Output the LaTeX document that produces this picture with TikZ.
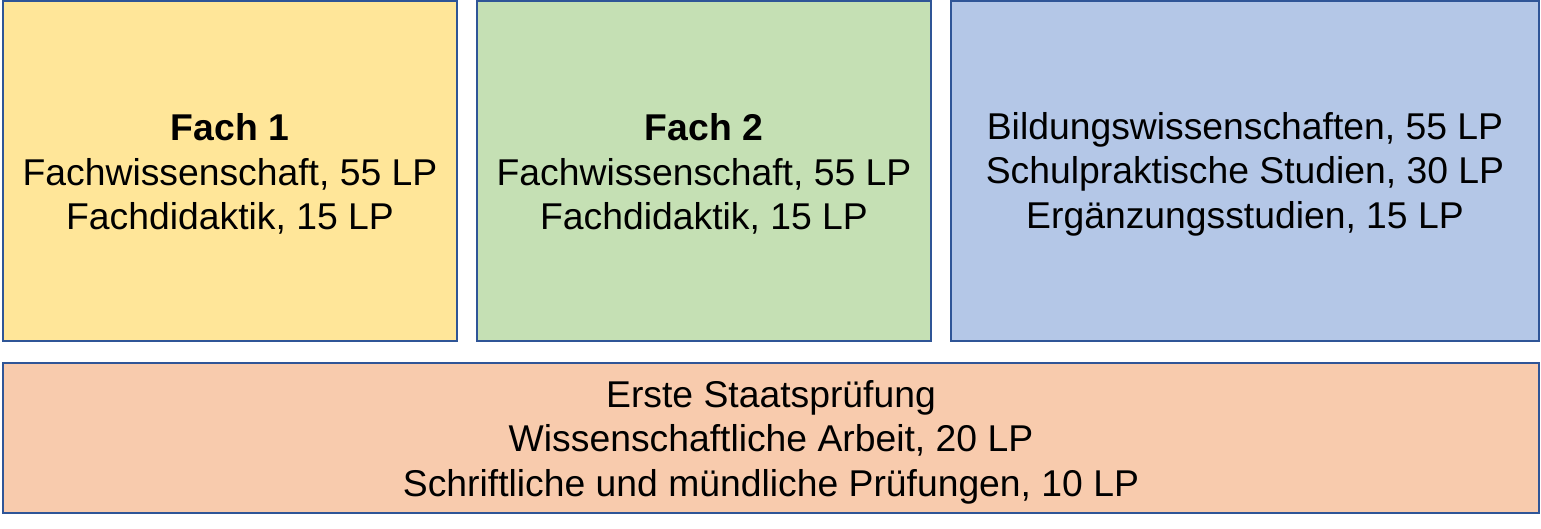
\documentclass[tikz,border=0pt]{standalone}
\usepackage{fontspec}
\setmainfont{Liberation Sans}
\definecolor{cyellow}{HTML}{FFE699}
\definecolor{cgreen}{HTML}{C5E0B4}
\definecolor{cblue}{HTML}{B4C7E7}
\definecolor{corange}{HTML}{F8CBAD}
\definecolor{cborder}{HTML}{2F5597}
\begin{document}
\begin{tikzpicture}[x=1pt,y=1pt,
  box/.style={draw=cborder, line width=1.5pt, rectangle, inner sep=0pt},
  txt/.style={inner sep=0pt, align=center, font=\fontsize{37.3}{44.5}\selectfont}]
\useasboundingbox (0,0) rectangle (1541,529);
\node[box, fill=cyellow, minimum width=454pt, minimum height=340pt] (f1) at (230,358) {};
\node[box, fill=cgreen, minimum width=454pt, minimum height=340pt] (f2) at (704,358) {};
\node[box, fill=cblue, minimum width=588pt, minimum height=340pt] (bw) at (1245,358) {};
\node[box, fill=corange, minimum width=1536pt, minimum height=150pt] (sp) at (771,91) {};
\node[txt] (f1t) at ([yshift=-3pt]f1.center) {\textbf{Fach 1}\\Fachwissenschaft, 55 LP\\Fachdidaktik, 15 LP};
\node[txt] (f2t) at ([yshift=-3pt]f2.center) {\textbf{Fach 2}\\Fachwissenschaft, 55 LP\\Fachdidaktik, 15 LP};
\node[txt] (bwt) at ([yshift=-3pt]bw.center) {Bildungswissenschaften, 55 LP\\Schulpraktische Studien, 30 LP\\Ergänzungsstudien, 15 LP};
\node[txt] (spt) at ([yshift=-4pt]sp.center) {Erste Staatsprüfung\\Wissenschaftliche Arbeit, 20 LP\\Schriftliche und mündliche Prüfungen, 10 LP};
\end{tikzpicture}
\end{document}
